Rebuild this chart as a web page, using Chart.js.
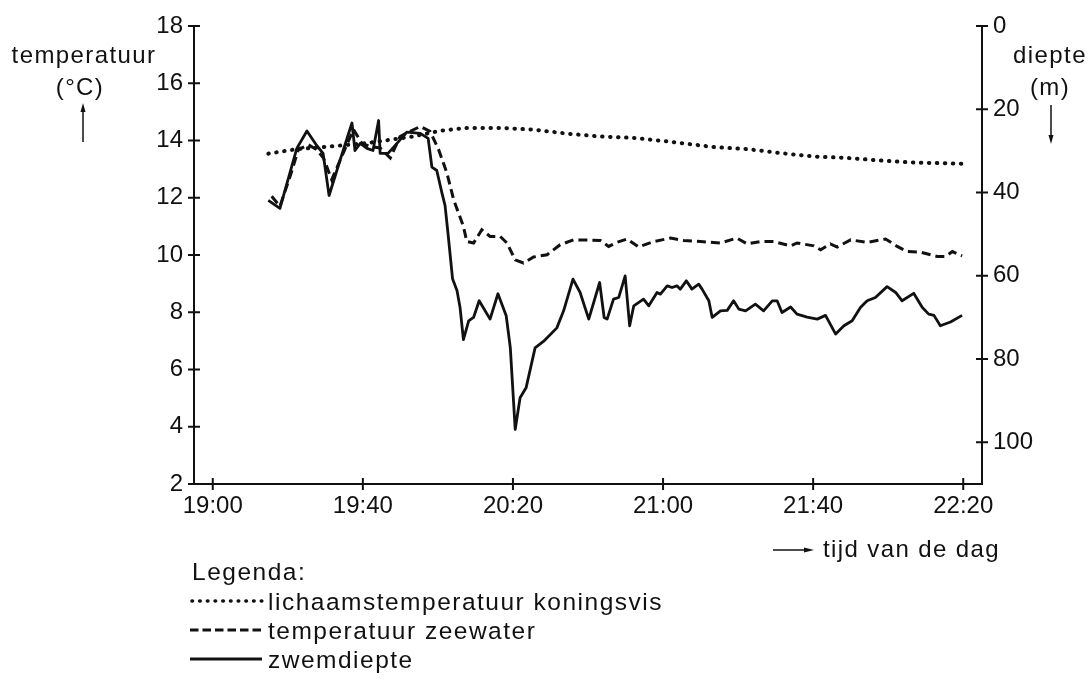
<!DOCTYPE html>
<html>
<head>
<meta charset="utf-8">
<script src="https://cdn.jsdelivr.net/npm/chart.js@4.4.1/dist/chart.umd.min.js"></script>
<style>
  html, body { margin: 0; padding: 0; background: #fff; }
  body { width: 1089px; height: 680px; overflow: hidden; position: relative;
         font-family: "Liberation Sans", Arial, sans-serif; color: #111; }
  #chart { position: absolute; left: 0; top: 0; }
  .lbl { position: absolute; font-size: 24px; line-height: 29px; letter-spacing: 1.4px; white-space: nowrap; }
  .leg { font-size: 24.5px; letter-spacing: 1.5px; }
  .c { text-align: center; }
  svg.deco { position: absolute; left: 0; top: 0; }
</style>
</head>
<body>
<canvas id="chart" width="1089" height="680"></canvas>

<svg class="deco" width="1089" height="680">
  <g stroke="#111" fill="#111">
    <!-- axis arrows -->
    <line x1="83" y1="142" x2="83" y2="110" stroke-width="1.5"/>
    <polygon points="83,103 80.5,112 85.5,112" stroke="none"/>
    <line x1="1051" y1="105" x2="1051" y2="137" stroke-width="1.5"/>
    <polygon points="1051,144 1048.5,135 1053.5,135" stroke="none"/>
    <line x1="773" y1="550" x2="806" y2="550" stroke-width="1.5"/>
    <polygon points="814,550 804,547.5 804,552.5" stroke="none"/>
    <!-- legend samples -->
    <line x1="192" y1="601" x2="262" y2="601" stroke-width="3.6" stroke-dasharray="0.5 7.2" stroke-linecap="round"/>
    <line x1="190" y1="630" x2="262" y2="630" stroke-width="3" stroke-dasharray="8.5 4"/>
    <line x1="190" y1="659" x2="262" y2="659" stroke-width="2.8"/>
  </g>
</svg>

<div class="lbl c" style="left:6px; top:40px; width:156px;">temperatuur</div>
<div class="lbl c" style="left:40px; top:72px; width:80px;">(°C)</div>
<div class="lbl c" style="left:1010px; top:40px; width:80px;">diepte</div>
<div class="lbl c" style="left:1010px; top:72px; width:80px;">(m)</div>
<div class="lbl" style="left:823px; top:534px;">tijd van de dag</div>

<div class="lbl leg" style="left:192px; top:557px;">Legenda:</div>
<div class="lbl leg" style="left:268px; top:587px;">lichaamstemperatuur koningsvis</div>
<div class="lbl leg" style="left:268px; top:616px;">temperatuur zeewater</div>
<div class="lbl leg" style="left:268px; top:645px;">zwemdiepte</div>

<script>
// time in minutes after 19:00
const tickMinutes = [0, 40, 80, 120, 160, 200];
const tickLabels = ['19:00', '19:40', '20:20', '21:00', '21:40', '22:20'];
const tempTicks = [2, 4, 6, 8, 10, 12, 14, 16, 18];
const depthTicks = [0, 20, 40, 60, 80, 100];

// lichaamstemperatuur koningsvis (°C)
const bodyMin = [14.8, 22.4, 31.3, 41.1, 53.4, 60.6, 67.7, 76.6, 85.5, 94.4, 103.3,
  112.2, 121.1, 133.5, 142.4, 151.3, 160.2, 169.1, 178.0, 186.8, 199.7];
const bodyTemp = [13.54, 13.70, 13.79, 13.91, 14.14, 14.34, 14.44, 14.44, 14.38, 14.24, 14.14,
  14.09, 13.97, 13.77, 13.70, 13.56, 13.44, 13.39, 13.30, 13.23, 13.19];

// temperatuur zeewater (°C)
const seaMin = [15.7, 17.9, 20.6, 22.8, 25.5, 27.7, 29.5, 31.7, 34.8, 37.5,
  39.7, 41.9, 44.6, 47.3, 49.9, 52.6, 55.3, 57.9, 60.2, 62.4,
  64.2, 66.8, 67.7, 69.5, 71.7, 73.9, 76.6, 78.4, 80.6, 82.8,
  85.5, 89.1, 92.6, 96.2, 103.3, 105.5, 107.7, 110.4, 113.5, 117.5,
  122.0, 125.5, 130.0, 135.3, 139.7, 142.4, 146.0, 149.5, 154.0, 155.7,
  160.2, 162.0, 164.6, 166.4, 170.0, 174.4, 179.3, 182.4, 185.1, 188.6,
  193.1, 195.3, 197.1, 199.7];
const seaTemp = [12.05, 11.70, 12.74, 13.68, 13.85, 13.68, 13.39, 12.63, 13.57, 14.38,
  13.91, 13.79, 13.74, 13.39, 14.14, 14.32, 14.49, 14.32, 13.68, 12.86,
  11.93, 11.00, 10.47, 10.42, 10.88, 10.65, 10.65, 10.42, 9.83, 9.72,
  9.93, 10.01, 10.36, 10.53, 10.51, 10.30, 10.44, 10.56, 10.28, 10.47,
  10.59, 10.51, 10.47, 10.42, 10.59, 10.39, 10.47, 10.47, 10.32, 10.42,
  10.32, 10.18, 10.39, 10.28, 10.53, 10.44, 10.56, 10.30, 10.12, 10.10,
  9.95, 9.95, 10.12, 9.97];

// zwemdiepte (m)
const swimMin = [14.8, 17.9, 22.4, 25.1, 27.7, 29.4, 31.0, 33.9, 37.1, 37.9,
  39.3, 41.1, 42.7, 44.2, 44.6, 46.7, 49.1, 51.7, 55.3, 57.4,
  58.4, 59.7, 61.1, 61.9, 62.7, 63.9, 65.1, 65.9, 66.8, 68.2,
  69.5, 71.0, 73.9, 76.0, 78.2, 79.3, 80.6, 81.9, 83.5, 85.9,
  88.2, 91.7, 93.5, 96.0, 97.9, 100.2, 103.1, 104.3, 105.1, 106.8,
  108.2, 109.9, 111.1, 112.2, 114.8, 116.2, 118.4, 119.3, 121.1, 122.4,
  123.7, 124.6, 126.2, 127.7, 129.5, 130.4, 132.2, 133.1, 135.3, 137.1,
  138.8, 140.2, 142.0, 144.6, 146.8, 149.1, 150.4, 151.7, 154.0, 155.7,
  158.4, 161.1, 163.3, 166.0, 168.2, 170.4, 172.6, 174.4, 176.6, 179.7,
  182.0, 183.7, 186.8, 189.1, 190.8, 192.2, 193.9, 196.6, 199.7];
const swimDepth = [41.9, 43.8, 29.4, 25.2, 28.7, 30.6, 40.7, 32.3, 23.3, 29.9,
  28.2, 29.4, 29.9, 22.7, 30.6, 30.6, 28.2, 25.5, 25.8, 27.0,
  33.9, 34.7, 40.2, 43.1, 49.9, 60.7, 63.6, 67.6, 75.3, 70.8,
  70.0, 66.0, 70.4, 64.3, 69.6, 77.3, 96.9, 89.3, 86.9, 77.3,
  75.7, 72.5, 68.4, 60.8, 64.0, 70.4, 61.6, 70.0, 70.4, 65.6,
  65.2, 60.0, 72.0, 67.2, 65.6, 67.2, 64.0, 64.4, 62.4, 62.8,
  62.4, 63.2, 61.2, 63.2, 62.0, 63.2, 66.0, 70.0, 68.4, 68.3,
  66.0, 68.0, 68.4, 66.8, 68.4, 66.0, 66.0, 68.8, 67.5, 69.2,
  69.9, 70.4, 69.5, 74.0, 72.0, 70.8, 67.6, 66.0, 65.2, 62.6,
  64.0, 66.0, 64.2, 67.6, 69.2, 69.5, 72.0, 71.1, 69.5];

const pairs = (xs, ys) => xs.map((x, i) => ({ x: x, y: ys[i] }));
const ink = '#111';
const tickFont = { family: '"Liberation Sans", Arial, sans-serif', size: 24 };

// ticks that cross the axis line, like in the original figure
const crossTicks = {
  id: 'crossTicks',
  afterDraw(chart) {
    const ctx = chart.ctx;
    const { x, y, y2 } = chart.scales;
    ctx.save();
    ctx.strokeStyle = ink;
    ctx.lineWidth = 2;
    ctx.beginPath();
    x.ticks.forEach(t => {
      const px = x.getPixelForValue(t.value);
      ctx.moveTo(px, x.top - 6);
      ctx.lineTo(px, x.top + 6);
    });
    [y, y2].forEach(s => {
      const ax = s === y ? s.right : s.left;
      s.ticks.forEach(t => {
        const py = s.getPixelForValue(t.value);
        ctx.moveTo(ax - 6, py);
        ctx.lineTo(ax + 6, py);
      });
    });
    ctx.stroke();
    ctx.restore();
  }
};

new Chart(document.getElementById('chart'), {
  type: 'line',
  data: {
    datasets: [
      {
        label: 'lichaamstemperatuur koningsvis',
        data: pairs(bodyMin, bodyTemp),
        yAxisID: 'y',
        borderColor: ink,
        borderWidth: 4,
        borderDash: [0.5, 7.5],
        borderCapStyle: 'round'
      },
      {
        label: 'temperatuur zeewater',
        data: pairs(seaMin, seaTemp),
        yAxisID: 'y',
        borderColor: ink,
        borderWidth: 3,
        borderDash: [9, 5]
      },
      {
        label: 'zwemdiepte',
        data: pairs(swimMin, swimDepth),
        yAxisID: 'y2',
        borderColor: ink,
        borderWidth: 2.8,
        borderJoinStyle: 'round'
      }
    ]
  },
  options: {
    responsive: false,
    animation: false,
    events: [],
    elements: { point: { radius: 0 }, line: { tension: 0, fill: false } },
    layout: { padding: { top: 26, bottom: 146, left: 0, right: 0 } },
    plugins: { legend: { display: false }, tooltip: { enabled: false } },
    scales: {
      x: {
        type: 'linear',
        min: -5,
        max: 205,
        afterBuildTicks: s => { s.ticks = tickMinutes.map(v => ({ value: v })); },
        afterFit: s => { s.height = 50; },
        ticks: {
          callback: v => tickLabels[tickMinutes.indexOf(v)],
          font: tickFont, color: ink, padding: 8, maxRotation: 0, autoSkip: false
        },
        grid: { display: false, drawTicks: false },
        border: { display: true, color: ink, width: 2 }
      },
      y: {
        position: 'left',
        min: 2,
        max: 18,
        afterBuildTicks: s => { s.ticks = tempTicks.map(v => ({ value: v })); },
        afterFit: s => { s.width = 194; },
        ticks: { font: tickFont, color: ink, padding: 11 },
        grid: { display: false, drawTicks: false },
        border: { display: true, color: ink, width: 2 }
      },
      y2: {
        position: 'right',
        min: 0,
        max: 110,
        reverse: true,
        afterBuildTicks: s => { s.ticks = depthTicks.map(v => ({ value: v })); },
        afterFit: s => { s.width = 107; },
        ticks: { font: tickFont, color: ink, padding: 11 },
        grid: { display: false, drawTicks: false },
        border: { display: true, color: ink, width: 2 }
      }
    }
  },
  plugins: [crossTicks]
});
</script>
</body>
</html>
